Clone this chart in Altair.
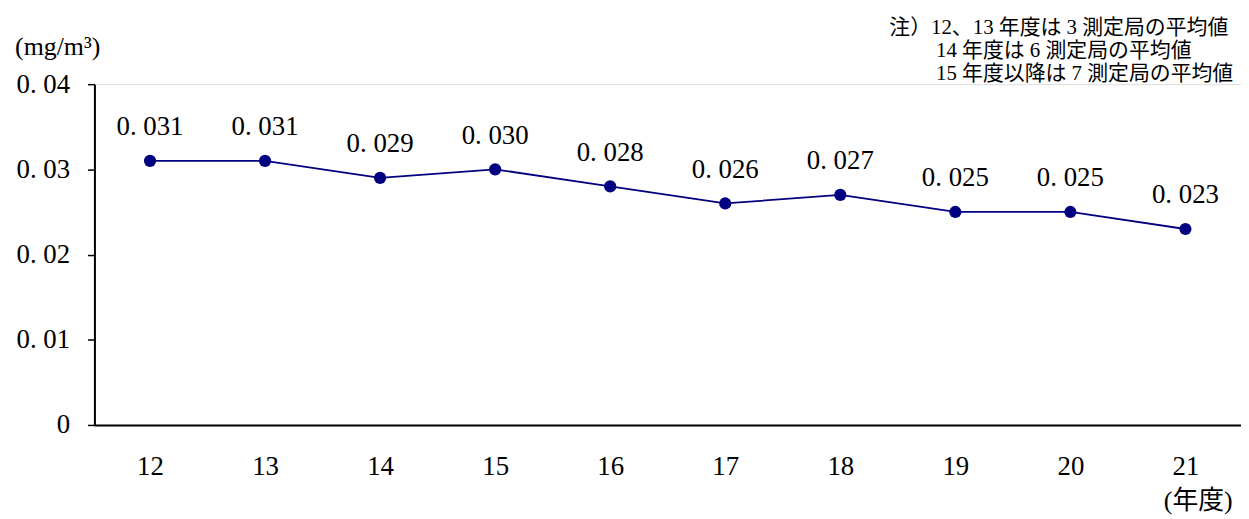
import altair as alt
import pandas as pd

years = ["12", "13", "14", "15", "16", "17", "18", "19", "20", "21"]
values = [0.031, 0.031, 0.029, 0.030, 0.028, 0.026, 0.027, 0.025, 0.025, 0.023]
y_ticks = [0, 0.01, 0.02, 0.03, 0.04]
note_lines = ["注）12、13 年度は 3 測定局の平均値", "14 年度は 6 測定局の平均値", "15 年度以降は 7 測定局の平均値"]
y_unit = "(mg/m³)"
x_unit = "(年度)"

df = pd.DataFrame({"year": years, "value": values})

SERIF = "Liberation Serif, Noto Sans CJK JP, serif"
NAVY = "#000080"

x_enc = alt.X("year:N", sort=years, title=None,
              scale=alt.Scale(type="point", padding=0.483),
              axis=alt.Axis(labelAngle=0, ticks=False, domainColor="black", domainWidth=2,
                            labelFont=SERIF, labelFontSize=27, labelColor="black",
                            labelPadding=29, grid=False))
y_enc = alt.Y("value:Q", title=None,
              scale=alt.Scale(domain=[0, 0.04], nice=False),
              axis=alt.Axis(values=y_ticks, grid=False, domainColor="black", domainWidth=2,
                            tickColor="black", tickSize=7, tickWidth=1.5,
                            labelFont=SERIF, labelFontSize=27, labelColor="black",
                            labelPadding=18,
                            labelExpr="datum.value == 0 ? '0' : replace(format(datum.value, '.2f'), '.', '. ')"))

base = alt.Chart(df).encode(x=x_enc, y=y_enc)

line = base.mark_line(color=NAVY, strokeWidth=1.8)
pts = base.mark_circle(color=NAVY, size=150, opacity=1)
labels = base.transform_calculate(
    lab="replace(format(datum.value, '.3f'), '.', '. ')"
).mark_text(font=SERIF, fontSize=27, dy=-34, color="black").encode(text="lab:N")

note_df = pd.DataFrame({"t": note_lines, "px": [800, 847, 847], "py": [-56, -33, -10]})
notes = alt.Chart(note_df).mark_text(font=SERIF, fontSize=21, align="left", color="black").encode(
    x=alt.X("px:Q", scale=None), y=alt.Y("py:Q", scale=None), text="t:N")

unit_df = pd.DataFrame({"t": [y_unit, x_unit], "px": [-37, 1111], "py": [-37, 420]})
units = alt.Chart(unit_df).mark_text(font=SERIF, fontSize=26, align="center", color="black").encode(
    x=alt.X("px:Q", scale=None), y=alt.Y("py:Q", scale=None), text="t:N")

chart = alt.layer(line, pts, labels, notes, units).properties(
    width=1154, height=343,
    autosize=alt.AutoSizeParams(type="none"),
    padding={"left": 87, "top": 75, "right": 0, "bottom": 92},
).configure_view(stroke=None).configure(background="white")

chart.save("out.html", embed_options={"renderer": "svg", "actions": False})
